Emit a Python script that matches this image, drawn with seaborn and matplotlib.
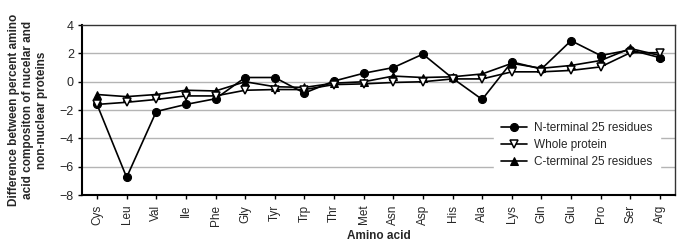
import pandas as pd
import seaborn as sns
import matplotlib
matplotlib.use("Agg")
import matplotlib.pyplot as plt

amino_acids = ["Cys", "Leu", "Val", "Ile", "Phe", "Gly", "Tyr", "Trp", "Thr", "Met",
               "Asn", "Asp", "His", "Ala", "Lys", "Gln", "Glu", "Pro", "Ser", "Arg"]
n_terminal = [-1.6, -6.75, -2.1, -1.6, -1.2, 0.3, 0.3, -0.8, 0.05, 0.6,
              1.0, 1.95, 0.25, -1.25, 1.4, 0.9, 2.9, 1.85, 2.25, 1.7]
whole_protein = [-1.6, -1.45, -1.25, -1.0, -1.0, -0.6, -0.55, -0.55, -0.2, -0.15,
                 -0.05, 0.0, 0.2, 0.2, 0.7, 0.7, 0.8, 1.05, 2.05, 2.05]
c_terminal = [-0.9, -1.05, -0.9, -0.6, -0.65, 0.0, -0.35, -0.4, -0.1, 0.0,
              0.4, 0.3, 0.35, 0.55, 1.3, 0.95, 1.15, 1.5, 2.35, 1.85]

sns.set_style("white")
plt.rcParams["font.family"] = ["Liberation Sans", "DejaVu Sans"]

df = pd.DataFrame({"aa": amino_acids, "n": n_terminal, "w": whole_protein, "c": c_terminal})
df["x"] = range(len(df))

fig, ax = plt.subplots(figsize=(6.85, 2.46), dpi=100)
fig.subplots_adjust(left=0.120, right=0.985, top=0.898, bottom=0.207)

for yv in [2, 0, -2, -4, -6]:
    ax.axhline(yv, color="#b4b4b4", lw=1.0, zorder=0)

sns.lineplot(data=df, x="x", y="n", ax=ax, color="black", lw=1.2, marker="o",
             markersize=5.8, markerfacecolor="black", markeredgecolor="black",
             label="N-terminal 25 residues", zorder=3)
sns.lineplot(data=df, x="x", y="w", ax=ax, color="black", lw=1.2, marker="v",
             markersize=5.8, markerfacecolor="white", markeredgecolor="black",
             markeredgewidth=1.1, label="Whole protein", zorder=4)
sns.lineplot(data=df, x="x", y="c", ax=ax, color="black", lw=1.2, marker="^",
             markersize=5.2, markerfacecolor="black", markeredgecolor="black",
             label="C-terminal 25 residues", zorder=2)

ax.set_xlim(-0.5, len(amino_acids) - 0.5)
ax.set_ylim(-8, 4)
ax.set_yticks([-8, -6, -4, -2, 0, 2, 4])
ax.set_xticks(range(len(amino_acids)))
ax.set_xticklabels(amino_acids, rotation=90, fontsize=8.5)
ax.tick_params(axis="y", labelsize=9, pad=3)
ax.tick_params(axis="x", pad=4)
ax.tick_params(axis="both", direction="out", length=3, width=1, color="black",
               bottom=True, left=True)

for side in ["left", "bottom"]:
    ax.spines[side].set_linewidth(1.5)
    ax.spines[side].set_color("black")
for side in ["top", "right"]:
    ax.spines[side].set_linewidth(1.0)
    ax.spines[side].set_color("#333333")

ax.set_xlabel("Amino acid", fontsize=8.5, fontweight="bold", labelpad=3)
ax.set_ylabel("Difference between percent amino\nacid compositon of nucelar and\nnon-nuclear proteins",
              fontsize=8.5, fontweight="bold", linespacing=1.25)
ax.yaxis.set_label_coords(-0.057, 0.5)

leg = ax.legend(loc="center", bbox_to_anchor=(0.835, 0.294), fontsize=8.5,
                frameon=True, framealpha=1, edgecolor="white", fancybox=False,
                handlelength=2.2, handletextpad=0.6, labelspacing=0.4, borderpad=0.6)
leg.get_frame().set_facecolor("white")

fig.savefig("out.png", dpi=100)
